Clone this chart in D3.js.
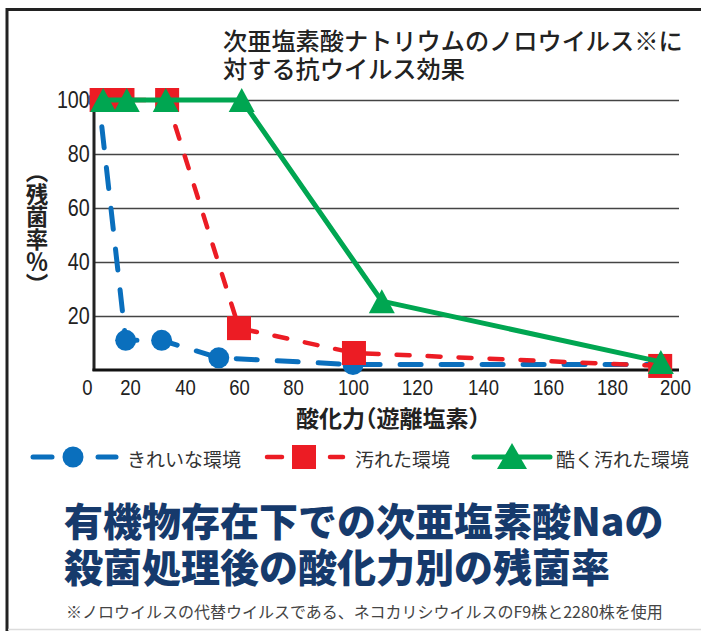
<!DOCTYPE html>
<html><head><meta charset="utf-8">
<script src="https://cdn.jsdelivr.net/npm/d3@7"></script>
<style>
body{margin:0;background:#fff;}
svg{display:block;}
</style></head><body>
<svg id="chart" width="701" height="631"></svg>
<script>
// ---------- data ----------
const seriesNames = ["きれいな環境", "汚れた環境", "酷く汚れた環境"];
const cleanX = [5.5, 18, 31.5, 52.5, 100, 195.5];
const cleanY = [100, 11, 11, 4.5, 2, 2];
const dirtyX = [6.8, 16.5, 33.5, 60, 100.3, 195.3];
const dirtyY = [100, 100, 100, 15.5, 6.3, 1.5];
const veryDirtyX = [7.5, 18.5, 33, 61, 109, 195.5];
const veryDirtyY = [100, 100, 100, 100, 25.5, 3];
const xTicks = [0, 20, 40, 60, 80, 100, 120, 140, 160, 180, 200];
const yTicks = [20, 40, 60, 80, 100];
const titleLines = ["次亜塩素酸ナトリウムのノロウイルス※に", "対する抗ウイルス効果"];
const xAxisTitle = "酸化力（遊離塩素）";
const yAxisTitle = "（残菌率％）";
const headlineLines = ["有機物存在下での次亜塩素酸Naの", "殺菌処理後の酸化力別の残菌率"];
const footnote = "※ノロウイルスの代替ウイルスである、ネコカリシウイルスのF9株と2280株を使用";

// ---------- layout ----------
const svg = d3.select("#chart");
const JP = "'Noto Sans CJK JP','Noto Sans',sans-serif";
const NUM = "'Liberation Sans','Arial',sans-serif";
const plotLeft = 94, plotRight = 679, plotTop = 100, plotBottom = 370;
const colors = ["#0a6fbd", "#ec1c24", "#00a651"];

// The printed axis is not evenly spaced; calibrate with a polylinear scale.
const x = d3.scaleLinear().domain(xTicks)
  .range([87, 130, 185, 239, 293, 353, 417, 483, 548, 612, 675]);
const y = d3.scaleLinear().domain([0, 100]).range([plotBottom, plotTop]);

// frame
svg.append("line").attr("x1", 6).attr("x2", 701).attr("y1", 9.5).attr("y2", 9.5)
  .attr("stroke", "#222").attr("stroke-width", 3);
svg.append("line").attr("x1", 7).attr("x2", 7).attr("y1", 8).attr("y2", 631)
  .attr("stroke", "#222").attr("stroke-width", 3);
svg.append("line").attr("x1", 8).attr("x2", 701).attr("y1", 629.5).attr("y2", 629.5)
  .attr("stroke", "#dcdcdc").attr("stroke-width", 1.5);

// chart title
svg.append("g").selectAll("text").data(titleLines).join("text")
  .attr("x", 223).attr("y", (d, i) => 39 + i * 28)
  .attr("dominant-baseline", "central")
  .attr("font-family", JP).attr("font-weight", 500).attr("font-size", 24.2)
  .attr("fill", "#222").text(d => d);

// y axis with gridlines
const yAxis = svg.append("g").attr("transform", `translate(${plotLeft},0)`)
  .call(d3.axisLeft(y).tickValues(yTicks).tickSize(-(plotRight - plotLeft)).tickPadding(5));
yAxis.select(".domain").remove();
yAxis.selectAll(".tick line").attr("stroke", "#444").attr("stroke-width", 1.6);
yAxis.selectAll(".tick text").attr("font-family", NUM).attr("font-size", 23.5)
  .attr("transform", "scale(0.84,1)").attr("fill", "#222");

// x axis labels
const xAxis = svg.append("g").attr("transform", `translate(0,${plotBottom})`)
  .call(d3.axisBottom(x).tickValues(xTicks).tickSize(0).tickPadding(10));
xAxis.select(".domain").remove();
xAxis.selectAll(".tick text").attr("font-family", NUM).attr("font-size", 21.5)
  .attr("transform", "scale(0.86,1)").attr("fill", "#222");

// axis lines
svg.append("line").attr("x1", plotLeft).attr("x2", plotLeft).attr("y1", plotTop).attr("y2", plotBottom + 1)
  .attr("stroke", "#222").attr("stroke-width", 3);
svg.append("line").attr("x1", plotLeft - 1.5).attr("x2", plotRight).attr("y1", plotBottom).attr("y2", plotBottom)
  .attr("stroke", "#111").attr("stroke-width", 3.2);

// axis titles
svg.append("text").attr("x", 388).attr("y", 417).attr("text-anchor", "middle")
  .attr("dominant-baseline", "central")
  .style("font-feature-settings", "'halt' 1")
  .attr("font-family", JP).attr("font-weight", 700).attr("font-size", 23)
  .attr("fill", "#222").text(xAxisTitle);
svg.append("text").attr("x", 37).attr("y", 228).attr("text-anchor", "middle")
  .style("writing-mode", "vertical-rl")
  .attr("font-family", JP).attr("font-weight", 700).attr("font-size", 22.5)
  .attr("fill", "#222").text(yAxisTitle);

// series
const line = d3.line().x(d => x(d[0])).y(d => y(d[1]));
const zip = (a, b) => a.map((v, i) => [v, b[i]]);
const cleanPts = zip(cleanX, cleanY);
const dirtyPts = zip(dirtyX, dirtyY);
const veryPts = zip(veryDirtyX, veryDirtyY);
const triPath = (cx, cy, w, h) => `M${cx},${cy - h / 2}L${cx + w / 2},${cy + h / 2}L${cx - w / 2},${cy + h / 2}Z`;

// clean (blue, dashed, circles)
svg.append("path").datum(cleanPts).attr("d", line).attr("fill", "none")
  .attr("stroke", colors[0]).attr("stroke-width", 5).attr("stroke-linecap", "round")
  .attr("stroke-dasharray", "21,20").attr("stroke-dashoffset", 14);
svg.append("g").selectAll("circle").data(cleanPts).join("circle")
  .attr("cx", d => x(d[0])).attr("cy", d => y(d[1])).attr("r", 10.5).attr("fill", colors[0]);

// dirty (red, dashed, squares)
svg.append("path").datum(dirtyPts).attr("d", line).attr("fill", "none")
  .attr("stroke", colors[1]).attr("stroke-width", 4.5).attr("stroke-linecap", "round")
  .attr("stroke-dasharray", "13,18");
svg.append("g").selectAll("rect").data(dirtyPts).join("rect")
  .attr("x", d => x(d[0]) - 12).attr("y", d => y(d[1]) - 12)
  .attr("width", 24).attr("height", 24).attr("fill", colors[1]);

// very dirty (green, solid, triangles)
svg.append("path").datum(veryPts).attr("d", line).attr("fill", "none")
  .attr("stroke", colors[2]).attr("stroke-width", 5).attr("stroke-linejoin", "round");
svg.append("g").selectAll("path").data(veryPts).join("path")
  .attr("d", d => triPath(x(d[0]), y(d[1]), 26, 24)).attr("fill", colors[2]);

// legend
const ly = 457;
const lg = svg.append("g");
// blue item
lg.append("line").attr("x1", 33).attr("x2", 52).attr("y1", ly).attr("y2", ly)
  .attr("stroke", colors[0]).attr("stroke-width", 5).attr("stroke-linecap", "round");
lg.append("line").attr("x1", 98).attr("x2", 116).attr("y1", ly).attr("y2", ly)
  .attr("stroke", colors[0]).attr("stroke-width", 5).attr("stroke-linecap", "round");
lg.append("circle").attr("cx", 73).attr("cy", ly).attr("r", 10.5).attr("fill", colors[0]);
// red item
lg.append("line").attr("x1", 267).attr("x2", 282).attr("y1", ly).attr("y2", ly)
  .attr("stroke", colors[1]).attr("stroke-width", 4.5).attr("stroke-linecap", "round");
lg.append("line").attr("x1", 330).attr("x2", 343).attr("y1", ly).attr("y2", ly)
  .attr("stroke", colors[1]).attr("stroke-width", 4.5).attr("stroke-linecap", "round");
lg.append("rect").attr("x", 292).attr("y", ly - 12).attr("width", 24).attr("height", 24).attr("fill", colors[1]);
// green item
lg.append("line").attr("x1", 474).attr("x2", 550).attr("y1", ly).attr("y2", ly)
  .attr("stroke", colors[2]).attr("stroke-width", 5).attr("stroke-linecap", "round");
lg.append("path").attr("d", triPath(512, ly - 1, 30, 26)).attr("fill", colors[2]);
const legendTextX = [127, 355, 556];
lg.selectAll("text").data(seriesNames).join("text")
  .attr("x", (d, i) => legendTextX[i]).attr("y", ly + 1)
  .attr("dominant-baseline", "central")
  .attr("font-family", JP).attr("font-size", 19).attr("fill", "#333").text(d => d);

// headline
svg.append("g").selectAll("text").data(headlineLines).join("text")
  .attr("x", 64).attr("y", (d, i) => 519 + i * 46)
  .attr("dominant-baseline", "central")
  .attr("font-family", JP).attr("font-weight", 900).attr("font-size", 39)
  .attr("fill", "#163a6c").text(d => d);

// footnote
svg.append("text").attr("x", 66).attr("y", 611).attr("dominant-baseline", "central")
  .attr("font-family", JP).attr("font-size", 16).attr("fill", "#444").text(footnote);
</script>
</body></html>
